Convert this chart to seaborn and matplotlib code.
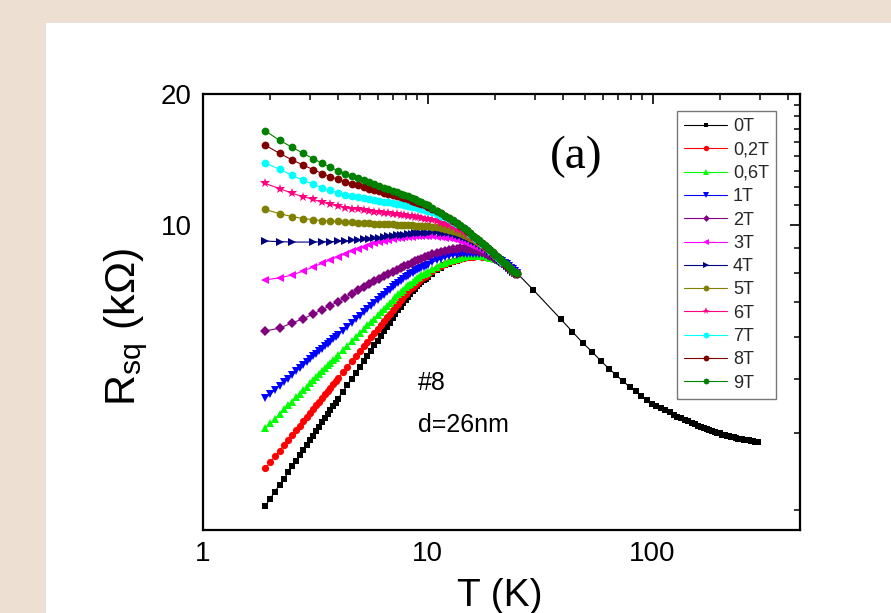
import numpy as np
import pandas as pd
import matplotlib
matplotlib.use("Agg")
import matplotlib.pyplot as plt
import matplotlib.patches as mpatches
import seaborn as sns
from matplotlib.ticker import FixedLocator, FixedFormatter, NullFormatter, LogLocator

# ---------------- data ----------------
T_LO = [1.9, 2.0, 2.1, 2.2, 2.3, 2.4, 2.5, 2.6, 2.7, 2.8, 2.9, 3.0, 3.1, 3.2, 3.3, 3.4, 3.5, 3.6, 3.7, 3.8, 3.9, 4.0,
        4.2, 4.4, 4.6, 4.8, 5.0, 5.2, 5.4, 5.6, 5.8, 6.0, 6.2, 6.4, 6.6, 6.8, 7.0, 7.2, 7.4, 7.6, 7.8, 8.0,
        8.2, 8.4, 8.6, 8.8, 9.0, 9.2, 9.4, 9.6, 9.8, 10.0,
        10.5, 11.0, 11.5, 12.0, 12.5, 13.0, 13.5, 14.0, 14.5, 15.0, 15.5, 16.0, 16.5, 17.0, 17.5, 18.0,
        18.5, 19.0, 19.5, 20.0, 20.5, 21.0, 21.5, 22.0, 22.5, 23.0, 23.5, 24.0, 24.5, 24.9]

T_HI = [1.9, 2.2, 2.5, 2.8, 3.1, 3.4, 3.7, 4.0, 4.3, 4.6, 4.9, 5.2, 5.5, 5.8, 6.1, 6.4, 6.7, 7.0, 7.3, 7.6,
        7.9, 8.2, 8.5, 8.8, 9.1, 9.4, 9.7, 10.0,
        10.5, 11.0, 11.5, 12.0, 12.5, 13.0, 13.5, 14.0, 14.5, 15.0, 15.5, 16.0, 16.5, 17.0, 17.5, 18.0,
        18.5, 19.0, 19.5, 20.0, 20.5, 21.0, 21.5, 22.0, 22.5, 23.0, 23.5, 24.0, 24.5, 24.9]

T_4T = [1.9, 2.2, 2.5, 3.1, 3.4, 3.7, 4.0, 4.3, 4.6, 4.9, 5.2, 5.5, 5.8, 6.1, 6.4, 6.7, 7.0, 7.3, 7.6,
        7.9, 8.2, 8.5, 8.8, 9.1, 9.4, 9.7, 10.0,
        10.5, 11.0, 11.5, 12.0, 12.5, 13.0, 13.5, 14.0, 14.5, 15.0, 15.5, 16.0, 16.5, 17.0, 17.5, 18.0,
        18.5, 19.0, 19.5, 20.0, 20.5, 21.0, 21.5, 22.0, 22.5, 23.0, 23.5, 24.0, 24.5, 24.9]

T_0T_HIGH = [29.5, 39, 44, 49, 54, 59, 64, 69, 74, 79, 84, 89, 94, 99,
             104, 109, 114, 119, 124, 129, 134, 139, 144, 149, 154, 159, 164, 169, 174, 179, 184, 189,
             194, 199, 204, 209, 214, 219, 224, 229, 234, 239, 244, 249, 254, 259, 264, 269, 274, 279,
             284, 289, 294]

R_0T = [2.27, 2.36, 2.45, 2.54, 2.62, 2.71, 2.80, 2.88, 2.97, 3.05, 3.13, 3.21, 3.29, 3.37, 3.45, 3.53,
        3.61, 3.69, 3.77, 3.84, 3.92, 4.00,
        4.15, 4.30, 4.44, 4.59, 4.74, 4.88, 5.02, 5.16, 5.30, 5.44, 5.58, 5.71, 5.85, 5.98, 6.12, 6.25,
        6.38, 6.51, 6.63, 6.75, 6.86, 6.96, 7.06, 7.15, 7.24, 7.32, 7.40, 7.47, 7.54, 7.60,
        7.75, 7.88, 7.99, 8.09, 8.17, 8.24, 8.30, 8.35, 8.39, 8.42, 8.44, 8.45, 8.46, 8.46, 8.45, 8.44,
        8.42, 8.40, 8.37, 8.34, 8.30, 8.26, 8.21, 8.16, 8.10, 8.04, 7.97, 7.90, 7.83, 7.78]

R_0T_HIGH = [7.11, 6.10, 5.70, 5.37, 5.12, 4.88, 4.69, 4.53, 4.39, 4.26, 4.16, 4.06, 3.97, 3.90,
             3.85, 3.80, 3.76, 3.72, 3.68, 3.64, 3.61, 3.58, 3.55, 3.52, 3.50, 3.47, 3.45, 3.43, 3.41,
             3.39, 3.37, 3.36, 3.34, 3.33, 3.31, 3.30, 3.29, 3.28, 3.27, 3.26, 3.25, 3.24, 3.24, 3.23,
             3.22, 3.22, 3.21, 3.21, 3.20, 3.20, 3.19, 3.19, 3.19]

R_02T = [2.77, 2.86, 2.95, 3.04, 3.13, 3.22, 3.30, 3.39, 3.47, 3.55, 3.63, 3.71, 3.79, 3.87, 3.94, 4.02,
         4.10, 4.17, 4.24, 4.32, 4.39, 4.46,
         4.60, 4.74, 4.88, 5.01, 5.15, 5.28, 5.41, 5.53, 5.66, 5.78, 5.90, 6.03, 6.15, 6.26, 6.38, 6.50,
         6.61, 6.73, 6.84, 6.95, 7.05, 7.14, 7.23, 7.31, 7.39, 7.46, 7.53, 7.59, 7.65, 7.71,
         7.84, 7.96, 8.06, 8.15, 8.22, 8.28, 8.33, 8.37, 8.41, 8.44, 8.46, 8.47, 8.48, 8.48, 8.47, 8.46,
         8.44, 8.42, 8.39, 8.35, 8.31, 8.27, 8.22, 8.17, 8.11, 8.05, 7.98, 7.91, 7.84, 7.78]

R_06T = [3.42, 3.51, 3.60, 3.69, 3.78, 3.86, 3.94, 4.03, 4.11, 4.18, 4.26, 4.34, 4.41, 4.48, 4.56, 4.63,
         4.70, 4.77, 4.84, 4.90, 4.97, 5.04,
         5.17, 5.29, 5.42, 5.54, 5.66, 5.77, 5.89, 6.00, 6.11, 6.22, 6.33, 6.43, 6.53, 6.64, 6.74, 6.84,
         6.94, 7.03, 7.12, 7.20, 7.28, 7.35, 7.42, 7.49, 7.55, 7.61, 7.67, 7.72, 7.77, 7.82,
         7.94, 8.04, 8.13, 8.21, 8.28, 8.33, 8.38, 8.42, 8.45, 8.48, 8.50, 8.51, 8.51, 8.51, 8.50, 8.48,
         8.46, 8.43, 8.40, 8.36, 8.32, 8.28, 8.23, 8.17, 8.11, 8.05, 7.98, 7.91, 7.84, 7.78]

R_1T = [4.01, 4.10, 4.19, 4.28, 4.37, 4.45, 4.54, 4.62, 4.70, 4.77, 4.85, 4.93, 5.00, 5.07, 5.14, 5.21,
        5.28, 5.35, 5.41, 5.48, 5.54, 5.61,
        5.73, 5.85, 5.97, 6.08, 6.20, 6.31, 6.42, 6.52, 6.63, 6.73, 6.83, 6.93, 7.02, 7.12, 7.21, 7.29,
        7.37, 7.45, 7.52, 7.59, 7.66, 7.72, 7.78, 7.84, 7.89, 7.94, 7.99, 8.04, 8.08, 8.12,
        8.22, 8.31, 8.38, 8.44, 8.49, 8.53, 8.56, 8.58, 8.60, 8.61, 8.61, 8.61, 8.60, 8.59, 8.57, 8.55,
        8.52, 8.49, 8.45, 8.41, 8.36, 8.31, 8.26, 8.20, 8.13, 8.06, 7.99, 7.92, 7.85, 7.79]

R_2T = [5.72, 5.81, 5.97, 6.10, 6.26, 6.40, 6.54, 6.68, 6.82, 6.96, 7.09, 7.21, 7.32, 7.43, 7.53, 7.63,
        7.72, 7.81, 7.89, 7.97, 8.05, 8.12, 8.19, 8.26, 8.32, 8.38, 8.44, 8.49,
        8.57, 8.64, 8.70, 8.75, 8.79, 8.82, 8.84, 8.85, 8.85, 8.84, 8.82, 8.79, 8.76, 8.72, 8.67, 8.62,
        8.56, 8.50, 8.44, 8.38, 8.32, 8.25, 8.18, 8.11, 8.03, 7.96, 7.88, 7.81, 7.75, 7.71]

R_3T = [7.50, 7.57, 7.69, 7.85, 8.02, 8.18, 8.33, 8.47, 8.60, 8.72, 8.83, 8.93, 9.02, 9.10, 9.16, 9.22,
        9.27, 9.31, 9.34, 9.37, 9.39, 9.41, 9.42, 9.43, 9.44, 9.44, 9.44, 9.44,
        9.43, 9.41, 9.39, 9.36, 9.33, 9.29, 9.25, 9.20, 9.15, 9.09, 9.03, 8.97, 8.90, 8.83, 8.76, 8.69,
        8.62, 8.55, 8.48, 8.41, 8.34, 8.27, 8.20, 8.12, 8.04, 7.97, 7.89, 7.82, 7.76, 7.72]

R_4T = [9.20, 9.17, 9.15, 9.15, 9.16, 9.17, 9.19, 9.21, 9.23, 9.25, 9.28, 9.31, 9.34, 9.37, 9.40, 9.43,
        9.46, 9.48, 9.50, 9.52, 9.54, 9.56, 9.58, 9.59, 9.60, 9.61, 9.62,
        9.63, 9.63, 9.62, 9.60, 9.58, 9.55, 9.51, 9.46, 9.41, 9.35, 9.28, 9.21, 9.13, 9.05, 8.97, 8.88,
        8.79, 8.70, 8.60, 8.50, 8.41, 8.32, 8.23, 8.14, 8.05, 7.97, 7.89, 7.82, 7.76, 7.72]

R_5T = [10.87, 10.63, 10.47, 10.36, 10.30, 10.25, 10.22, 10.20, 10.18, 10.16, 10.14, 10.12, 10.10, 10.08,
        10.07, 10.06, 10.05, 10.04, 10.03, 10.02, 10.01, 10.00, 9.99, 9.98, 9.97, 9.96, 9.95, 9.94,
        9.92, 9.89, 9.86, 9.82, 9.77, 9.72, 9.66, 9.59, 9.52, 9.44, 9.36, 9.28, 9.19, 9.10, 9.01, 8.91,
        8.81, 8.71, 8.61, 8.51, 8.42, 8.33, 8.24, 8.15, 8.06, 7.98, 7.90, 7.83, 7.77, 7.73]

R_6T = [12.47, 12.14, 11.84, 11.63, 11.46, 11.30, 11.17, 11.06, 10.98, 10.92, 10.87, 10.83, 10.79, 10.75,
        10.72, 10.69, 10.66, 10.63, 10.60, 10.57, 10.54, 10.51, 10.48, 10.45, 10.42, 10.39, 10.36, 10.33,
        10.27, 10.21, 10.14, 10.07, 9.99, 9.91, 9.82, 9.73, 9.63, 9.53, 9.43, 9.33, 9.23, 9.13, 9.03, 8.93,
        8.83, 8.73, 8.63, 8.53, 8.43, 8.34, 8.25, 8.16, 8.07, 7.99, 7.91, 7.84, 7.78, 7.74]

R_7T = [13.90, 13.44, 13.02, 12.68, 12.41, 12.20, 12.02, 11.87, 11.76, 11.67, 11.60, 11.54, 11.48, 11.43,
        11.38, 11.33, 11.28, 11.24, 11.20, 11.16, 11.12, 11.08, 11.04, 11.00, 10.95, 10.90, 10.85, 10.80,
        10.71, 10.62, 10.52, 10.42, 10.31, 10.19, 10.07, 9.95, 9.83, 9.70, 9.57, 9.44, 9.32, 9.20, 9.08, 8.96,
        8.85, 8.74, 8.63, 8.53, 8.43, 8.34, 8.25, 8.16, 8.07, 7.99, 7.92, 7.85, 7.79, 7.75]

R_8T = [15.26, 14.62, 14.12, 13.74, 13.42, 13.14, 12.92, 12.74, 12.59, 12.46, 12.34, 12.23, 12.13, 12.04,
        11.96, 11.88, 11.81, 11.74, 11.67, 11.60, 11.53, 11.46, 11.39, 11.32, 11.25, 11.18, 11.11, 11.04,
        10.92, 10.79, 10.65, 10.51, 10.38, 10.25, 10.11, 9.98, 9.85, 9.72, 9.59, 9.46, 9.34, 9.22, 9.10, 8.98,
        8.87, 8.76, 8.65, 8.55, 8.45, 8.35, 8.26, 8.17, 8.08, 8.00, 7.92, 7.85, 7.79, 7.75]

R_9T = [16.46, 15.66, 15.10, 14.62, 14.22, 13.88, 13.58, 13.34, 13.14, 12.96, 12.81, 12.67, 12.54, 12.42,
        12.31, 12.20, 12.10, 12.00, 11.91, 11.82, 11.73, 11.64, 11.55, 11.46, 11.37, 11.28, 11.19, 11.10,
        10.93, 10.80, 10.66, 10.52, 10.39, 10.26, 10.12, 9.99, 9.86, 9.73, 9.60, 9.47, 9.35, 9.23, 9.11, 8.99,
        8.88, 8.77, 8.66, 8.56, 8.46, 8.36, 8.27, 8.18, 8.09, 8.01, 7.93, 7.86, 7.80, 7.76]

LABELS = ["0T", "0,2T", "0,6T", "1T", "2T", "3T", "4T", "5T", "6T", "7T", "8T", "9T"]
X_TICKS = [1, 10, 100]
X_TICK_LABELS = ["1", "10", "100"]
Y_TICKS = [10, 20]
Y_TICK_LABELS = ["10", "20"]

# ---------------- styling ----------------
sns.set_theme(style="white")
plt.rcParams["font.family"] = ["Liberation Sans", "DejaVu Sans"]
plt.rcParams["mathtext.fontset"] = "custom"
plt.rcParams["mathtext.rm"] = "Liberation Sans"
plt.rcParams["mathtext.it"] = "Liberation Sans:italic"

fig = plt.figure(figsize=(8.91, 6.13), dpi=100, facecolor="#EDE0D2")
panel = mpatches.Rectangle((46 / 891, 0), 1, (613 - 23) / 613, transform=fig.transFigure,
                           facecolor="white", edgecolor="none", zorder=-10)
fig.add_artist(panel)
ax = fig.add_axes([202.5 / 891, 83 / 613, 597.5 / 891, 436 / 613])
ax.set_zorder(5)
ax.set_facecolor("white")

series = [
    (LABELS[0], T_LO + T_0T_HIGH, R_0T + R_0T_HIGH, "s", "#000000", 4.0),
    (LABELS[1], T_LO, R_02T, "o", "#FF0000", 5.2),
    (LABELS[2], T_LO, R_06T, "^", "#00FF00", 5.8),
    (LABELS[3], T_LO, R_1T, "v", "#0000FF", 5.8),
    (LABELS[4], T_HI, R_2T, "D", "#800080", 4.6),
    (LABELS[5], T_HI, R_3T, "<", "#FF00FF", 6.0),
    (LABELS[6], T_4T, R_4T, ">", "#000080", 6.0),
    (LABELS[7], T_HI, R_5T, "o", "#808000", 5.6),
    (LABELS[8], T_HI, R_6T, "*", "#FF0080", 7.5),
    (LABELS[9], T_HI, R_7T, "o", "#00FFFF", 5.6),
    (LABELS[10], T_HI, R_8T, "o", "#800000", 5.6),
    (LABELS[11], T_HI, R_9T, "o", "#008000", 5.6),
]

for lab, tt, rr, mk, col, ms in series:
    df = pd.DataFrame({"T": tt, "R": rr})
    sns.lineplot(data=df, x="T", y="R", ax=ax, color=col, marker=mk, markersize=ms,
                 markeredgewidth=0, linewidth=0.8, label=lab, estimator=None, sort=False)

ax.set_xscale("log")
ax.set_yscale("log")
ax.set_xlim(1, 452)
ax.set_ylim(2.0, 20)

ax.xaxis.set_major_locator(FixedLocator(X_TICKS))
ax.xaxis.set_major_formatter(FixedFormatter(X_TICK_LABELS))
ax.xaxis.set_minor_locator(LogLocator(base=10, subs=np.arange(2, 10)))
ax.xaxis.set_minor_formatter(NullFormatter())
ax.yaxis.set_major_locator(FixedLocator(Y_TICKS))
ax.yaxis.set_major_formatter(FixedFormatter(Y_TICK_LABELS))
ax.yaxis.set_minor_locator(FixedLocator([10 / 9 * k for k in range(2, 18) if k != 9]))
ax.yaxis.set_minor_formatter(NullFormatter())

ax.tick_params(which="both", direction="in", top=True, right=True, color="black")
ax.tick_params(which="major", length=7, width=1.2, labelsize=20, pad=8, labelcolor="black")
ax.tick_params(which="minor", length=4, width=1.1)
for sp in ax.spines.values():
    sp.set_visible(True)
    sp.set_color("black")
    sp.set_linewidth(1.6)

ax.set_xlabel("T (K)", fontsize=28, color="black")
ax.xaxis.set_label_coords(0.498, -0.110)
ax.set_ylabel(r"R$_{\mathregular{sq}}$ (k$\Omega$)", fontsize=31, color="black")
ax.yaxis.set_label_coords(-0.088, 0.466)

ax.text(0.625, 0.855, "(a)", transform=ax.transAxes, fontsize=34, family="Liberation Serif",
        ha="center", va="center", color="black")
ax.text(0.361, 0.337, "#8", transform=ax.transAxes, fontsize=18, ha="left", va="center", color="black")
ax.text(0.361, 0.240, "d=26nm", transform=ax.transAxes, fontsize=18, ha="left", va="center", color="black")

leg = ax.legend(loc="upper left", bbox_to_anchor=(0.794, 0.961), fontsize=13, frameon=True,
                fancybox=False, edgecolor="#555555", handlelength=2.4, handletextpad=0.3,
                labelspacing=0.35, borderpad=0.4, borderaxespad=0, markerscale=0.75)
leg.get_frame().set_linewidth(1.0)
leg.set_zorder(10)

fig.savefig("out.png", dpi=100, facecolor=fig.get_facecolor())
